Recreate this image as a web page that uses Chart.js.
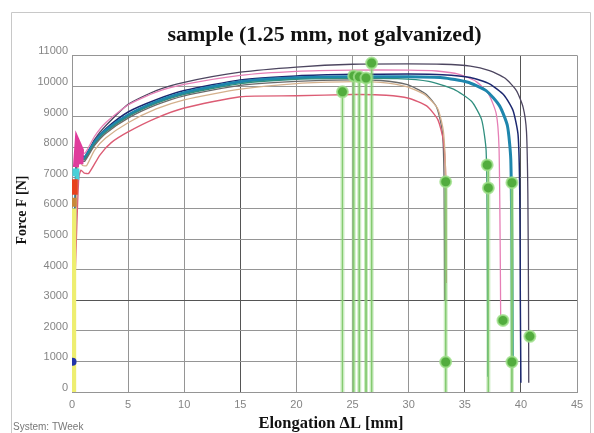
<!DOCTYPE html>
<html>
<head>
<meta charset="utf-8">
<script src="https://cdn.jsdelivr.net/npm/chart.js@4.4.1/dist/chart.umd.min.js"></script>
<style>
  body { margin: 0; background: #fff; }
  canvas { display: block; }
</style>
</head>
<body>
<canvas id="grafico" width="594" height="433"></canvas>
<script>
// TICKS
const xTicks = [0, 5, 10, 15, 20, 25, 30, 35, 40, 45]
const yTicks = [0, 1000, 2000, 3000, 4000, 5000, 6000, 7000, 8000, 9000, 10000, 11000]

// TEST CURVES [elongation mm, force N]
const curveTop = [[0,0],[0.25,5000],[0.45,7700],[0.6,7950],[0.85,7750],[1.2,7700],[2,8250],[3,8700],[5,9400],[7.5,9850],[10,10120],[15,10450],[20,10620],[25,10710],[30,10720],[33,10710],[35.5,10650],[37.2,10500],[38.6,10250],[39.6,9850],[40.2,9300],[40.5,8500],[40.62,6500],[40.68,3000],[40.7,300]]
const curvePink = [[0,0],[0.2,4500],[0.4,7900],[0.55,8200],[0.8,7900],[1.15,7800],[2,8350],[3,8800],[5,9380],[7.5,9800],[10,10050],[15,10350],[20,10480],[25,10520],[30,10520],[32.5,10490],[34.5,10380],[36,10150],[37.1,9750],[37.8,9100],[38.05,8000],[38.15,5000],[38.2,2400]]
const curveNavy = [[0,0],[0.2,4500],[0.42,7600],[0.6,7900],[0.85,7700],[1.15,7700],[2,8200],[3,8600],[5,9150],[7.5,9550],[10,9850],[15,10200],[20,10330],[25,10380],[30,10390],[33,10370],[35.5,10280],[37.2,10070],[38.5,9700],[39.3,9200],[39.75,8400],[39.9,6500],[39.95,3000],[40,300]]
const curveBlue = [[0,0],[0.2,4200],[0.42,7500],[0.6,7800],[0.85,7650],[1.15,7650],[2,8150],[3,8550],[5,9050],[7.5,9480],[10,9780],[15,10140],[20,10270],[25,10300],[30,10300],[33,10270],[35.2,10130],[36.9,9850],[38.1,9350],[38.8,8700],[39.1,7600],[39.2,4500],[39.25,800]]
const curveTeal = [[0,0],[0.2,4200],[0.42,7450],[0.6,7750],[0.85,7600],[1.15,7600],[2,8100],[3,8500],[5,9000],[7.5,9430],[10,9730],[15,10080],[20,10220],[25,10250],[29,10240],[31.8,10150],[34,9900],[35.6,9500],[36.5,8900],[36.9,7900],[37,5000],[37.05,500]]
const curveGray = [[0,0],[0.2,4000],[0.42,7400],[0.6,7700],[0.85,7550],[1.15,7550],[2,8050],[3,8450],[5,8950],[7.5,9380],[10,9680],[15,10020],[20,10150],[25,10200],[27.5,10180],[29.8,10050],[31.5,9750],[32.5,9300],[33,8500],[33.15,7000],[33.2,3000]]
const curveTan = [[0,0],[0.25,4000],[0.5,7300],[0.7,7550],[0.95,7400],[1.3,7400],[2,7900],[3,8300],[5,8800],[7.5,9250],[10,9550],[15,9900],[20,10080],[25,10140],[27.5,10120],[29.8,9980],[31.5,9700],[32.6,9250],[33.1,8500],[33.3,7000],[33.35,4000]]
const curveRed = [[0,0],[0.3,4000],[0.6,7000],[0.8,7250],[1.1,7150],[1.5,7150],[2.5,7750],[3.5,8150],[5,8500],[7.5,8950],[10,9280],[15,9650],[20,9680],[25,9720],[28,9700],[30,9600],[31.6,9350],[32.6,8900],[33.1,8200],[33.3,7000],[33.35,3560]]

// START MARKERS NEAR ZERO
const startYellow = [[0.15,0],[0.15,6000]]
const startBrown = [[0.15,6050],[0.15,6350]]
const startRed = [[0.2,6450],[0.2,6950]]
const startCyan = [[0.3,7050],[0.35,7300]]
const startMagenta = [[0.35,7350],[0.5,8150],[0.8,7900],[0.75,7450]]
const blueDot = [[0.05,990]]

// GREEN MARKERS (vertical lines from top value down to 0)
const greenLines = [[24.1,9810],[25.1,10330],[25.6,10300],[26.2,10260],[26.7,10750],[33.3,6870],[37.1,7420],[39.2,6840]]
const greenDots = [[24.1,9810],[25.1,10330],[25.6,10300],[26.2,10260],[26.7,10750],[33.3,6870],[33.3,980],[37.0,7420],[37.1,6670],[38.4,2340],[39.2,6840],[39.2,980],[40.8,1820]]

const toXY = (arr) => arr.map(p => ({ x: p[0], y: p[1] }))

function curve(data, color, width) {
  return {
    data: toXY(data),
    showLine: true,
    borderColor: color,
    borderWidth: width || 1.3,
    pointRadius: 0,
    tension: 0.2,
    order: 3
  }
}

function segment(data, color, width) {
  return {
    data: toXY(data),
    showLine: true,
    borderColor: color,
    borderWidth: width,
    pointRadius: 0,
    tension: 0,
    order: 2
  }
}

let datasets = [
  curve(curveTan, '#d4b08c'),
  curve(curveRed, '#dc5c74', 1.4),
  curve(curveGray, '#6a6a6a'),
  curve(curveTeal, '#2f8e7e'),
  curve(curveBlue, '#1e86ad', 3),
  curve(curveNavy, '#1c2870', 1.5),
  curve(curvePink, '#e67fb6'),
  curve(curveTop, '#4d4660'),
  segment(startYellow, '#eeee70', 5),
  segment(startBrown, '#c8883a', 6),
  segment(startRed, '#e8401c', 7),
  segment(startCyan, '#48d0d8', 7),
  segment(startMagenta, '#e03c9c', 6)
]

greenLines.forEach(g => {
  datasets.push(segment([[g[0], g[1]], [g[0], 0]], 'rgba(150,218,130,0.5)', 4))
  datasets.push(segment([[g[0], g[1]], [g[0], 0]], '#74ba62', 1))
})

datasets.push({
  data: toXY(greenDots),
  pointRadius: 5.5,
  backgroundColor: '#52ac3e',
  borderColor: 'rgba(160,225,140,0.8)',
  borderWidth: 2,
  order: 0
})
datasets.push({
  data: toXY(blueDot),
  pointRadius: 4,
  backgroundColor: '#2234a8',
  borderWidth: 0,
  order: 0
})

//FRAME AND AXIS TEXTS
const textosPlugin = {
  id: 'textos',
  beforeDraw(chart) {
    const ctx = chart.ctx
    ctx.save()
    ctx.fillStyle = '#fff'
    ctx.fillRect(0, 0, chart.width, chart.height)
    ctx.strokeStyle = '#c8c8c8'
    ctx.lineWidth = 1
    ctx.beginPath()
    ctx.moveTo(11.5, 433)
    ctx.lineTo(11.5, 12.5)
    ctx.lineTo(590.5, 12.5)
    ctx.lineTo(590.5, 433)
    ctx.stroke()
    ctx.restore()
  },
  afterDraw(chart) {
    const ctx = chart.ctx
    ctx.save()
    ctx.fillStyle = '#111'
    ctx.textAlign = 'center'
    ctx.textBaseline = 'middle'
    ctx.font = 'bold 16.5px "Liberation Serif"'
    ctx.fillText('Elongation \u0394L [mm]', 331, 424)
    ctx.translate(22, 210)
    ctx.rotate(-Math.PI / 2)
    ctx.font = 'bold 14px "Liberation Serif"'
    ctx.fillText('Force F [N]', 0, 0)
    ctx.restore()
    ctx.save()
    ctx.fillStyle = '#777'
    ctx.font = '10px "Liberation Sans"'
    ctx.textBaseline = 'middle'
    ctx.fillText('System: TWeek', 13, 427)
    ctx.restore()
  }
}

const gridColor = (ctx, dark) => dark.includes(ctx.tick && ctx.tick.value) ? '#555555' : '#959595'

new Chart(document.getElementById('grafico'), {
  type: 'scatter',
  data: { datasets: datasets },
  options: {
    responsive: false,
    animation: false,
    layout: { padding: { left: 0, right: 17, top: 0, bottom: 0 } },
    plugins: {
      legend: { display: false },
      tooltip: { enabled: false },
      title: {
        display: true,
        fullSize: false,
        text: 'sample (1.25 mm, not galvanized)',
        color: '#111',
        font: { family: '"Liberation Serif"', size: 22, weight: 'bold' },
        padding: { top: 22, bottom: 7 }
      }
    },
    scales: {
      x: {
        type: 'linear',
        min: 0,
        max: 45,
        afterBuildTicks: (scale) => { scale.ticks = xTicks.map(v => ({ value: v })) },
        afterFit: (scale) => { scale.height = 41 },
        grid: { color: (c) => gridColor(c, [15, 35, 40]), drawTicks: false, lineWidth: 1 },
        border: { color: '#959595' },
        ticks: { color: '#858585', padding: 6, font: { family: '"Liberation Sans"', size: 11 }, callback: (v) => String(v) }
      },
      y: {
        type: 'linear',
        min: 0,
        max: 11000,
        afterBuildTicks: (scale) => { scale.ticks = yTicks.map(v => ({ value: v })) },
        afterFit: (scale) => { scale.width = 72 },
        grid: { color: (c) => gridColor(c, [3000]), drawTicks: false, lineWidth: 1 },
        border: { color: '#959595' },
        ticks: { color: '#858585', padding: 4, labelOffset: -4, font: { family: '"Liberation Sans"', size: 11 }, callback: (v) => String(v) }
      }
    }
  },
  plugins: [textosPlugin]
});
</script>
</body>
</html>
